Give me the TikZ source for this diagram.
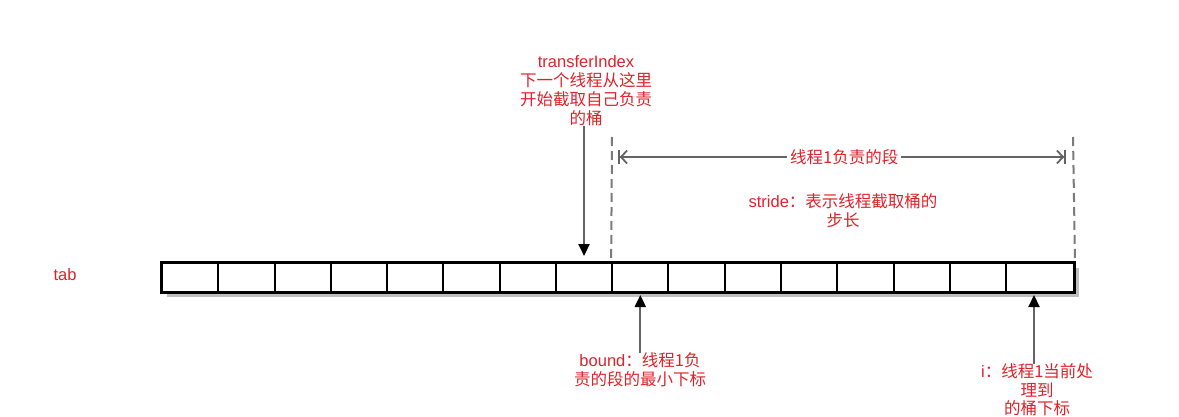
\documentclass[tikz,border=0pt]{standalone}
\usepackage{fontspec}
\setmainfont{Liberation Sans}
\newfontfamily\cj{Noto Sans CJK SC}
\usetikzlibrary{arrows.meta}
\definecolor{lbl}{RGB}{222,34,42}
\definecolor{ln}{RGB}{100,100,100}
\begin{document}
\begin{tikzpicture}[x=1pt,y=-1pt,
  lab/.style={text=lbl, font=\fontsize{16.5}{19}\selectfont, align=center, inner sep=0pt},
  cellbox/.style={draw=black, line width=2pt, minimum height=29pt, inner sep=0pt, anchor=north west},
  ptr/.style={draw=ln, line width=2pt, -{Triangle[length=12pt,width=11pt,fill=black,color=black]}},
  guide/.style={draw=ln!85, line width=2pt, dash pattern=on 9pt off 5pt},
  dim/.style={draw=ln, line width=1.8pt, {Bar[width=14pt]Straight Barb[length=6pt,width=13pt]}-{Straight Barb[length=6pt,width=13pt]Bar[width=14pt]}}]
\path[use as bounding box] (0,0) rectangle (1179,417);
% shadow
\fill[black!25] (167,268) rectangle (1079,297);
\fill[white] (161,262) rectangle (1073,291);
% cells
\foreach \i in {0,...,14} {
  \node[cellbox, minimum width=56.27pt] (c\i) at ({161+56.27*\i},262) {};
}
\node[cellbox, minimum width=68pt] (c15) at (1005,262) {};
\draw[line width=2.8pt] (c0.north west) rectangle (c15.south east);
% labels
\node[lab] (tab) at (65,275) {tab};
\node[lab] (ti) at (586,91) {transferIndex\\{\cj 下一个线程从这里}\\{\cj 开始截取自己负责}\\{\cj 的桶}};
\node[lab] (st) at (843,211) {stride{\cj ：表示线程截取桶的}\\{\cj 步长}};
\node[lab] (bd) at (640,370) {bound{\cj ：线程1负}\\{\cj 责的段的最小下标}};
\node[lab, font=\fontsize{16.5}{18.5}\selectfont] (ii) at (1037,390) {i{\cj ：线程1当前处}\\{\cj 理到}\\{\cj 的桶下标}};
% guides
\coordinate (gL) at (612,137);
\coordinate (gR) at (1073,137);
\draw[guide] (gL) -- (c8.north west);
\draw[guide] (gR) -- (c15.north east);
% dimension
\coordinate (dL) at (618,157);
\coordinate (dR) at (1066,157);
\draw[dim] (dL) -- node[lab, fill=white, inner xsep=3pt, inner ysep=2pt, pos=0.505] (seg) {\cj 线程1负责的段} (dR);
% pointers
\draw[ptr] (ti.south -| c7.north) -- ([yshift=6pt]c7.north);
\draw[ptr] (bd.north -| c8.south) -- ([yshift=-2pt]c8.south);
\draw[ptr] ([xshift=-6pt]c15.south |- ii.north) -- ([xshift=-6pt,yshift=-2pt]c15.south);
\end{tikzpicture}
\end{document}
